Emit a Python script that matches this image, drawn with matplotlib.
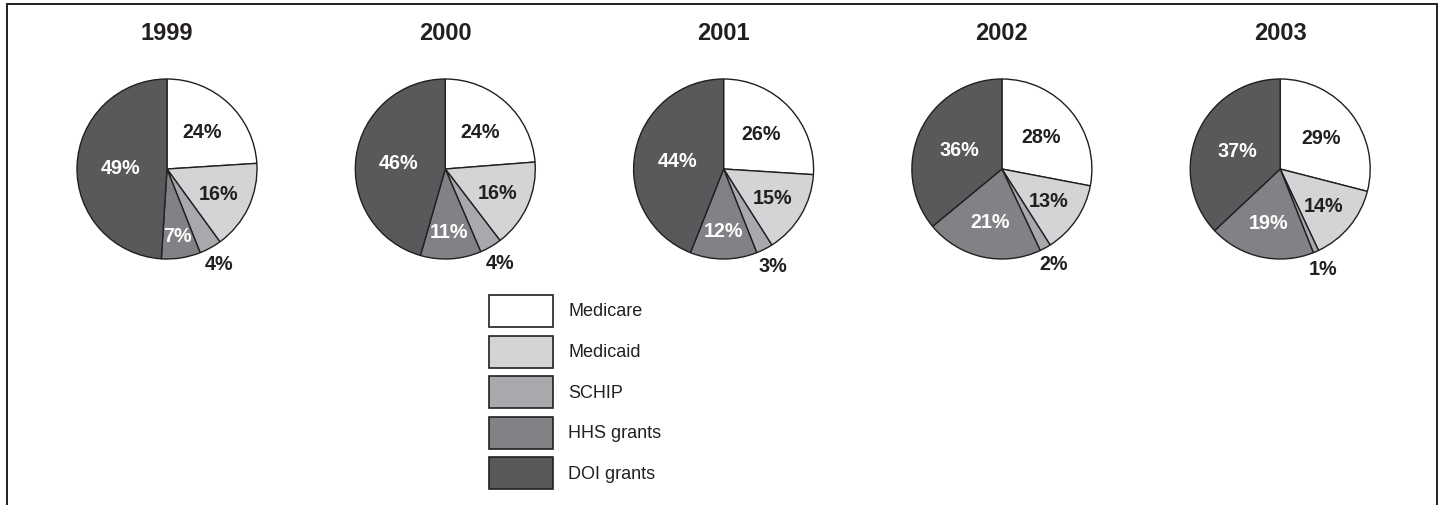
import matplotlib.pyplot as plt
from matplotlib.patches import Rectangle
import numpy as np

# Data (percent of total, per year)
years = ['1999', '2000', '2001', '2002', '2003']
categories = ['Medicare', 'Medicaid', 'SCHIP', 'HHS grants', 'DOI grants']
medicare = [24, 24, 26, 28, 29]
medicaid = [16, 16, 15, 13, 14]
schip = [4, 4, 3, 2, 1]
hhs_grants = [7, 11, 12, 21, 19]
doi_grants = [49, 46, 44, 36, 37]

# Styling
colors = ['#ffffff', '#d3d4d6', '#a7a9ac', '#808285', '#58595b']
text_colors = ['#231f20', '#231f20', '#231f20', 'white', 'white']
plt.rcParams['font.family'] = ['Liberation Sans', 'DejaVu Sans']

W, H = 1447, 506
fig = plt.figure(figsize=(W / 100, H / 100), dpi=100)
ax = fig.add_axes([0, 0, 1, 1])

x_first, x_step = 167, 278.3
cy = H - 170
radius = 90

series = [medicare, medicaid, schip, hhs_grants, doi_grants]

for i, year in enumerate(years):
    vals = [s[i] for s in series]
    cx = x_first + i * x_step
    wedges, _ = ax.pie(vals, colors=colors, startangle=90, counterclock=False,
                       center=(cx, cy), radius=radius, normalize=True,
                       wedgeprops=dict(edgecolor='#231f20', linewidth=1.0))
    ax.text(cx, H - 33, year, ha='center', va='center', fontsize=17,
            fontweight='bold', color='#231f20')

    # Percentage labels placed along each wedge bisector
    for j, w in enumerate(wedges):
        mid = np.deg2rad((w.theta1 + w.theta2) / 2)
        if j == 0:
            dist = 0.57
        elif j == 1:
            dist = 0.63
        elif j == 2:
            dist = 1.2
        elif j == 3:
            dist = 0.6 + 0.22 * (1 - min(vals[j], 20) / 20)
        else:
            dist = 0.52
        tx = cx + dist * radius * np.cos(mid)
        ty = cy + dist * radius * np.sin(mid)
        ax.text(tx, ty, '%d%%' % vals[j], ha='center', va='center',
                fontsize=14.2, fontweight='bold', color=text_colors[j])

# Legend drawn as a column of boxes below the third pie
box_x, box_w, box_h = 489, 64, 32
box_top, box_step = 296, 40.6
for k, name in enumerate(categories):
    top = box_top + k * box_step
    ax.add_patch(Rectangle((box_x, H - top - box_h), box_w, box_h,
                           facecolor=colors[k], edgecolor='#231f20', lw=1.2))
    ax.text(568, H - top - box_h / 2, name, ha='left', va='center',
            fontsize=13, color='#231f20')

# Frame (open at the bottom)
ax.plot([7, 7, 1437, 1437], [0, H - 5, H - 5, 0], color='#231f20', lw=1.4,
        solid_joinstyle='miter')

# pie() resets the limits, so fix the pixel-like coordinate system last
ax.set_xlim(0, W)
ax.set_ylim(0, H)
ax.set_aspect('equal')
ax.axis('off')

fig.savefig('out.png', dpi=100)
